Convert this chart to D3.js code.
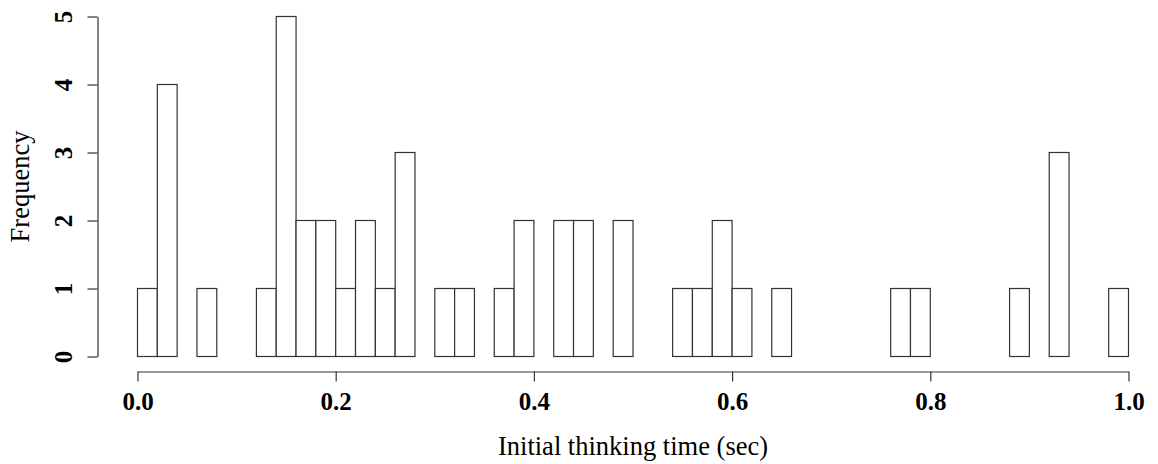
<!DOCTYPE html>
<html>
<head>
<meta charset="utf-8">
<script src="https://cdn.jsdelivr.net/npm/d3@7"></script>
<style>
  html, body { margin: 0; padding: 0; background: #fff; }
  svg { display: block; }
  text { font-family: "Liberation Serif", "Times New Roman", serif; fill: #000; }
</style>
</head>
<body>
<svg id="chart" width="1158" height="464"></svg>
<script>
// Histogram of initial thinking time: 50 bins of width 0.02 on [0, 1]
const binStarts = d3.range(0, 50).map(i => +(i * 0.02).toFixed(2));
const counts = [
  1, 4, 0, 1, 0, 0, 1, 5, 2, 2,
  1, 2, 1, 3, 0, 1, 1, 0, 1, 2,
  0, 2, 2, 0, 2, 0, 0, 1, 1, 2,
  1, 0, 1, 0, 0, 0, 0, 0, 1, 1,
  0, 0, 0, 0, 1, 0, 3, 0, 0, 1
];
const binWidth = 0.02;
const xTicks = [0, 0.2, 0.4, 0.6, 0.8, 1.0];
const yTicks = [0, 1, 2, 3, 4, 5];
const xTitle = "Initial thinking time (sec)";
const yTitle = "Frequency";

const svg = d3.select("#chart");
const plotLeft = 137.5, plotRight = 1128.5, plotTop = 16.5, plotBottom = 356.5;

const x = d3.scaleLinear().domain([0, 1]).range([plotLeft, plotRight]);
const y = d3.scaleLinear().domain([0, 5]).range([plotBottom, plotTop]);

const stroke = "#333";

// bars
svg.append("g")
  .selectAll("rect")
  .data(binStarts.map((s, i) => ({ s, c: counts[i] })))
  .join("rect")
  .attr("x", d => x(d.s))
  .attr("width", d => x(d.s + binWidth) - x(d.s))
  .attr("y", d => y(d.c))
  .attr("height", d => y(0) - y(d.c))
  .attr("fill", "#fff")
  .attr("stroke", stroke)
  .attr("stroke-width", 1.2);

// x axis, offset below the bars
const xAxis = svg.append("g")
  .attr("transform", `translate(0, 371.5)`)
  .call(d3.axisBottom(x).tickValues(xTicks).tickFormat(d3.format(".1f")).tickSize(10).tickSizeOuter(0));
xAxis.select(".domain").attr("stroke", stroke).attr("stroke-width", 1.2);
xAxis.selectAll(".tick line").attr("stroke", stroke).attr("stroke-width", 1.2);
xAxis.selectAll(".tick text")
  .attr("dy", 0).attr("y", 38)
  .style("font-family", "'Liberation Serif', serif")
  .style("font-size", "25px").style("font-weight", "bold").attr("fill", "#000");

// y axis, offset left of the bars
const yAxis = svg.append("g")
  .attr("transform", `translate(97.5, 0)`)
  .call(d3.axisLeft(y).tickValues(yTicks).tickFormat(d3.format("d")).tickSize(10).tickSizeOuter(0));
yAxis.select(".domain").attr("stroke", stroke).attr("stroke-width", 1.2);
yAxis.selectAll(".tick line").attr("stroke", stroke).attr("stroke-width", 1.2);
yAxis.selectAll(".tick text")
  .attr("x", null).attr("dy", null)
  .attr("text-anchor", "middle")
  .attr("transform", "translate(-25.5, 0) rotate(-90)")
  .style("font-family", "'Liberation Serif', serif")
  .style("font-size", "25px").style("font-weight", "bold").attr("fill", "#000");

// axis titles
svg.append("text")
  .attr("x", x(0.5)).attr("y", 455)
  .attr("text-anchor", "middle")
  .style("font-size", "26.5px")
  .text(xTitle);

svg.append("text")
  .attr("transform", `translate(29, ${y(2.5)}) rotate(-90)`)
  .attr("text-anchor", "middle")
  .style("font-size", "26.5px")
  .text(yTitle);
</script>
</body>
</html>
